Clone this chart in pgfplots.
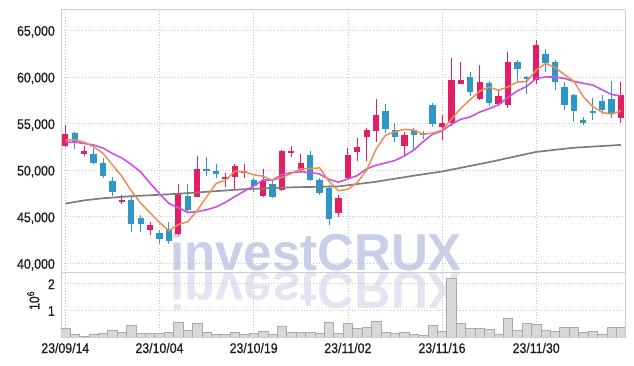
\documentclass[border=0pt]{standalone}
\usepackage{fontspec}
\setmainfont{Liberation Sans}[FakeStretch=0.9]
\newfontfamily\tickfont{Liberation Sans}[FakeStretch=0.88, FakeBold=0.6]
\newfontfamily\wmfont{Liberation Sans}[FakeStretch=0.98]
\usepackage{pgfplots}
\pgfplotsset{compat=1.18}
\usepackage{pgfplotstable}

\definecolor{cUp}{RGB}{226,30,100}
\definecolor{cDown}{RGB}{48,150,200}
\definecolor{cMAfive}{RGB}{240,140,80}
\definecolor{cMAten}{RGB}{200,82,232}
\definecolor{cMAsixty}{RGB}{125,125,125}
\definecolor{cGrid}{RGB}{195,195,215}
\definecolor{cFrame}{RGB}{205,205,205}
\definecolor{cVolFill}{RGB}{216,216,216}
\definecolor{cVolEdge}{RGB}{170,170,170}
\definecolor{cTick}{RGB}{30,30,30}
\definecolor{cWM}{RGB}{200,207,232}
\definecolor{cWMr}{RGB}{226,229,241}

% up (red) candles: index open high low close
\pgfplotstableread{
i o h l c
0 52600 54800 52500 53900
2 51700 52600 51500 52000
6 46600 47300 46400 46800
9 43600 44400 43000 44100
12 43100 48500 43000 47500
14 47100 51500 47100 50100
17 49000 49700 48200 49300
18 49300 50600 48000 50400
19 49700 50600 49100 49900
21 47200 50100 47100 48800
23 47900 52200 47800 52000
24 51900 52600 51400 52000
25 50000 51700 49700 50800
29 45400 47300 45000 47000
30 49100 52400 49000 51600
31 51900 53400 51000 52500
32 53600 54500 51000 54300
33 54200 57600 53000 55900
36 52600 54100 51600 53800
40 54600 55900 53200 55100
41 55000 62000 54700 59700
42 59200 61600 59200 59700
44 57600 61300 57500 59500
46 57100 58600 56900 58000
47 57000 62700 56700 61600
50 59700 64000 59200 63400
59 55600 59500 55000 58100
}\upc

% down (blue) candles
\pgfplotstableread{
i o h l c
1 54000 54100 52300 52900
3 51700 52400 50600 50800
4 50800 51300 49200 49400
5 48800 49300 47200 47700
7 46800 47200 43400 44200
8 44900 45200 43400 44200
10 43200 43600 42100 42600
11 43700 44400 42100 42400
13 47200 48500 45500 45700
15 50100 51400 49400 49900
16 49900 50700 49200 49600
20 48900 49200 47600 48300
22 48500 48900 47000 47100
26 51600 52000 48800 48900
27 48900 49200 47300 47500
28 48100 48400 44100 44700
34 56300 57100 54000 54400
35 54300 55000 53000 53500
37 54300 54500 52200 53800
38 54000 54200 53300 53800
39 57000 57200 54600 54900
43 60000 60500 57900 58400
45 59300 59600 56900 57200
48 61600 61800 59500 60900
49 60000 60100 58200 59800
51 62500 63000 60500 61500
52 61600 61800 58600 59500
53 58900 59500 56400 57000
54 58100 58200 55200 56300
55 55400 55700 54800 55100
56 56300 57700 55400 56200
57 57400 58100 56000 56400
58 57600 59600 55600 56000
}\downc

% moving averages (5 and 10 days)
\pgfplotstableread{
i ma5 ma10
0 53250 53000
1 53250 53000
2 53000 52850
3 52500 52690
4 51800 52370
5 50560 51780
6 49340 51300
7 47780 50600
8 46460 49800
9 45400 48600
10 44380 47470
11 43500 46420
12 44160 45970
13 44460 45460
14 45660 45530
15 47120 45750
16 48560 46030
17 48920 46540
18 49860 47160
19 49820 47740
20 49500 48310
21 49340 48950
22 48900 48910
23 49220 49540
24 49640 49730
25 50140 49820
26 50160 49750
27 50240 49570
28 48780 49000
29 47780 48710
30 47940 49040
31 48660 49410
32 50020 50130
33 52260 50520
34 53740 50760
35 54120 51030
36 54380 51520
37 54280 52150
38 53860 53060
39 53960 53850
40 54280 54200
41 55460 54920
42 56640 55460
43 57560 55710
44 58480 56220
45 58900 56590
46 58560 57010
47 58940 57790
48 59440 58500
49 59500 58990
50 60740 59820
51 61440 60000
52 61020 59980
53 60240 59840
54 59540 59520
55 57880 59310
56 56820 59130
57 56200 58610
58 56000 58120
59 56360 57950
}\ma

% 60-day moving average
\pgfplotstableread{
i v
0 46400
2 46750
4 46980
7 47200
11 47400
14 47600
19 47950
24 48150
29 48250
33 48750
37 49400
40 49850
45 50850
50 51950
54 52400
59 52700
}\masixty

% volume (millions)
\pgfplotstableread{
i v
0 0.31
1 0.10
2 0.04
3 0.10
4 0.15
5 0.25
6 0.16
7 0.44
8 0.13
9 0.13
10 0.13
11 0.16
12 0.56
13 0.25
14 0.53
15 0.19
16 0.10
17 0.10
18 0.16
19 0.10
20 0.13
21 0.21
22 0.10
23 0.40
24 0.19
25 0.19
26 0.19
27 0.13
28 0.54
29 0.13
30 0.50
31 0.31
32 0.37
33 0.59
34 0.19
35 0.13
36 0.19
37 0.11
38 0.06
39 0.44
40 0.20
41 2.19
42 0.50
43 0.31
44 0.31
45 0.28
46 0.10
47 0.70
48 0.24
49 0.50
50 0.46
51 0.24
52 0.20
53 0.35
54 0.35
55 0.18
56 0.20
57 0.10
58 0.35
59 0.35
}\vol

\pgfplotsset{
  base/.style={
    scale only axis, width=564bp,
    xmin=-0.46, xmax=59.43,
    xtick={0,10,20,30,40,50},
    scaled y ticks=false, scaled x ticks=false,
    grid=major,
    major grid style={cGrid, line width=0.7bp, dash pattern=on 1bp off 2bp},
    axis line style={cFrame, line width=0.8bp},
    major tick length=0pt,
    tick label style={font=\tickfont\fontsize{14bp}{14bp}\selectfont, text=cTick},
    yticklabel style={anchor=base east, inner sep=0pt, xshift=-6bp, yshift=-5.5bp},
  },
  wick/.style={draw=none, mark=none, forget plot,
    error bars/.cd, y dir=both, y explicit, error mark=none,
    error bar style={draw=#1, line width=1bp}},
  body/.style={draw=none, mark=none, forget plot,
    error bars/.cd, y dir=both, y explicit, error mark=none,
    error bar style={draw=#1, line width=6.3bp}},
}

\begin{document}
\begin{tikzpicture}
\path[use as bounding box] (0,0) rectangle (634bp,366bp);

% watermark
\node[anchor=base west, inner sep=0pt, text=cWM,
  font=\wmfont\bfseries\fontsize{52bp}{52bp}\selectfont] at (170bp,95bp) {investCRUX};
\node[anchor=base west, inner sep=0pt, yscale=-1, text=cWMr,
  font=\wmfont\bfseries\fontsize{52bp}{52bp}\selectfont] at (170bp,93bp) {investCRUX};

\begin{axis}[base, at={(61bp,93.3bp)}, anchor=south west, height=263.7bp,
  ymin=38990, ymax=67285,
  ytick={40000,45000,50000,55000,60000,65000},
  yticklabels={{40,000},{45,000},{50,000},{55,000},{60,000},{65,000}},
  xticklabels={}]
  \addplot[wick=cUp] table[x=i, y expr={(\thisrow{h}+\thisrow{l})/2}, y error expr={(\thisrow{h}-\thisrow{l})/2}]{\upc};
  \addplot[wick=cDown] table[x=i, y expr={(\thisrow{h}+\thisrow{l})/2}, y error expr={(\thisrow{h}-\thisrow{l})/2}]{\downc};
  \addplot[body=cUp] table[x=i, y expr={(\thisrow{o}+\thisrow{c})/2}, y error expr={(\thisrow{c}-\thisrow{o})/2}]{\upc};
  \addplot[body=cDown] table[x=i, y expr={(\thisrow{o}+\thisrow{c})/2}, y error expr={(\thisrow{o}-\thisrow{c})/2}]{\downc};
  \addplot[cMAsixty, line width=1.7bp, mark=none] table[x=i, y=v]{\masixty};
  \addplot[cMAten, line width=1.6bp, mark=none] table[x=i, y=ma10]{\ma};
  \addplot[cMAfive, line width=1.5bp, mark=none] table[x=i, y=ma5]{\ma};
\end{axis}

\begin{axis}[base, at={(61bp,29bp)}, anchor=south west, height=64.3bp,
  ymin=0, ymax=2.408,
  ytick={1,2}, yticklabels={1,2},
  xticklabels={23/09/14,23/10/04,23/10/19,23/11/02,23/11/16,23/11/30},
  xticklabel style={anchor=base, inner sep=0pt, yshift=-16bp}]
  \addplot[ybar, bar width=1, fill=cVolFill, draw=cVolEdge, line width=0.6bp] table[x=i, y=v]{\vol};
\end{axis}

\node[rotate=90, inner sep=0pt, text=cTick, font=\tickfont\fontsize{14bp}{14bp}\selectfont] at (33.3bp,65.5bp) {10\textsuperscript{6}};
\end{tikzpicture}
\end{document}
